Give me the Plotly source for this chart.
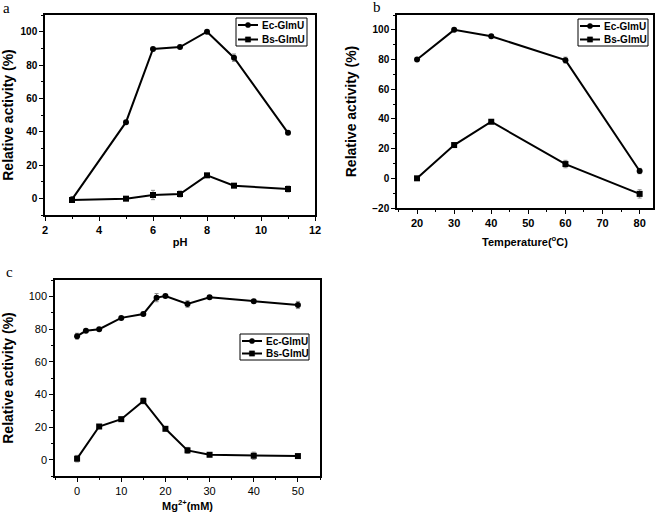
import plotly.graph_objects as go

# Panel a: pH
ph = [3, 5, 6, 7, 8, 9, 11]
ph_ec = [-0.6, 45.7, 89.6, 90.8, 100, 84.4, 39.3]
ph_ec_err = [1, 0.8, 0.8, 0.8, 0.5, 2.2, 0.8]
ph_bs = [-1, -0.2, 2, 2.6, 13.8, 7.6, 5.6]
ph_bs_err = [1, 0.8, 2.8, 1.8, 0.8, 0.8, 1.8]

# Panel b: temperature
temp = [20, 30, 40, 60, 80]
t_ec = [80, 100, 95.7, 79.6, 4.9]
t_ec_err = [0.8, 0.8, 0.8, 2.0, 1.8]
t_bs = [0, 22.4, 38.1, 9.6, -10.5]
t_bs_err = [0.5, 0.8, 0.8, 2.5, 2.8]

# Panel c: Mg2+
mg = [0, 2, 5, 10, 15, 18, 20, 25, 30, 40, 50]
mg_ec = [75.6, 78.9, 79.9, 86.8, 89.2, 99.2, 100.2, 95.3, 99.4, 97, 94.7]
mg_ec_err = [1.8, 0.8, 0.8, 0.8, 0.8, 2.5, 0.8, 2.0, 0.8, 0.8, 2.2]
mg_bs_x = [0, 5, 10, 15, 20, 25, 30, 40, 50]
mg_bs = [0.6, 20.3, 24.8, 36, 18.9, 5.7, 3, 2.4, 2.2]
mg_bs_err = [2.0, 0.8, 0.8, 1.8, 0.8, 1.8, 0.8, 2.2, 0.8]

names = ["Ec-GlmU", "Bs-GlmU"]
symbols = ["circle", "square"]

W, H = 661, 514
FAM = "Liberation Sans"

def xd(a, b):
    return [a / W, b / W]

def yd(top, bot):
    return [1 - bot / H, 1 - top / H]

def px(x):
    return x / W

def py(y):
    return 1 - y / H

fig = go.Figure()

def add_pair(x1, y1, e1, x2, y2, e2, xa, ya):
    for x, y, e, sym, nm in [(x1, y1, e1, symbols[0], names[0]), (x2, y2, e2, symbols[1], names[1])]:
        fig.add_trace(go.Scatter(
            x=x, y=y, name=nm, mode="lines+markers", showlegend=False,
            line=dict(color="black", width=2),
            marker=dict(symbol=sym, size=6, color="black"),
            error_y=dict(type="data", array=e, visible=True, color="#8a8a8a", thickness=1, width=2),
            xaxis=xa, yaxis=ya,
        ))

add_pair(ph, ph_ec, ph_ec_err, ph, ph_bs, ph_bs_err, "x", "y")
add_pair(temp, t_ec, t_ec_err, temp, t_bs, t_bs_err, "x2", "y2")
add_pair(mg, mg_ec, mg_ec_err, mg_bs_x, mg_bs, mg_bs_err, "x3", "y3")

xbold = dict(family=FAM, size=11, color="black", weight="bold")
ybold = dict(family=FAM, size=10, color="black", weight="bold")
xreg = dict(family=FAM, size=11, color="black")
yreg = dict(family=FAM, size=11, color="black")
xtitle_font = dict(family=FAM, size=11, color="black")
ytitle_font = dict(family=FAM, size=14, color="black")

def ax(domain, rng, dtick, minor, tickfont, anchor, title, tfont, standoff):
    return dict(
        domain=domain, range=rng, dtick=dtick, tick0=0,
        showgrid=False, zeroline=False, automargin=False,
        showline=True, linecolor="black", linewidth=1.5, mirror=True,
        ticks="outside", ticklen=4, tickwidth=1.2, tickcolor="black",
        minor=dict(dtick=minor, ticks="outside", ticklen=2, tickwidth=1, tickcolor="black", showgrid=False),
        tickfont=tickfont, anchor=anchor,
        title=dict(text=title, font=tfont, standoff=standoff),
    )

ylab = "<b>Relative activity (%)</b>"

fig.update_layout(
    width=W, height=H,
    margin=dict(l=0, r=0, t=0, b=0, autoexpand=False),
    paper_bgcolor="white", plot_bgcolor="white",
    showlegend=False,
    xaxis=ax(xd(45, 315), [2, 12], 2, 1, xbold, "y", "<b>pH</b>", xtitle_font, 3),
    yaxis=ax(yd(15, 215), [-10, 110], 20, 10, ybold, "x", ylab, ytitle_font, 12),
    xaxis2=ax(xd(397, 653), [14.6, 83.6], 10, 5, xbold, "y2", "<b>Temperature(<sup>o</sup>C)</b>", xtitle_font, 10),
    yaxis2=ax(yd(15, 208), [-20, 110], 20, 10, ybold, "x2", ylab, ytitle_font, 12),
    xaxis3=ax(xd(55, 320), [-5, 55], 10, 5, xreg, "y3", "<b>Mg<sup>2+</sup>(mM)</b>", xtitle_font, 6),
    yaxis3=ax(yd(280, 476), [-10, 110], 20, 10, yreg, "x3", ylab, ytitle_font, 12),
)

# Compact legend boxes (key line + symbol + label), placed in paper pixels
def add_legend(left, top, right, bottom, row_gap):
    fig.add_shape(type="rect", xref="paper", yref="paper",
                  x0=px(left), x1=px(right), y0=py(bottom), y1=py(top),
                  line=dict(color="black", width=1), fillcolor="white", layer="above")
    for i, (nm, sym) in enumerate(zip(names, symbols)):
        yc = top + 7 + i * row_gap
        fig.add_shape(type="line", xref="paper", yref="paper",
                      x0=px(left + 2), x1=px(left + 22), y0=py(yc), y1=py(yc),
                      line=dict(color="black", width=2), layer="above")
        r = 2.6
        fig.add_shape(type="circle" if sym == "circle" else "rect", xref="paper", yref="paper",
                      x0=px(left + 12 - r), x1=px(left + 12 + r), y0=py(yc + r), y1=py(yc - r),
                      line=dict(color="black", width=0.5), fillcolor="black", layer="above")
        fig.add_annotation(text="<b>%s</b>" % nm, x=px(left + 24), y=py(yc),
                           xref="paper", yref="paper", xanchor="left", yanchor="middle",
                           showarrow=False, font=dict(family=FAM, size=10, color="black"))

add_legend(236, 18, 307, 46, 14.5)
add_legend(578, 19, 648, 46, 13.5)
add_legend(240, 334, 309, 360, 12.5)

for txt, x, y in [("a", 1, 8), ("b", 371, 7), ("c", 4, 272)]:
    fig.add_annotation(
        text=txt, x=x / W, y=1 - y / H, xref="paper", yref="paper",
        xanchor="left", yanchor="middle", showarrow=False,
        font=dict(family="Liberation Serif", size=15, color="black"),
    )

fig.write_html("out.html", config={"displayModeBar": False},
               post_script="document.body.style.margin='0';")
